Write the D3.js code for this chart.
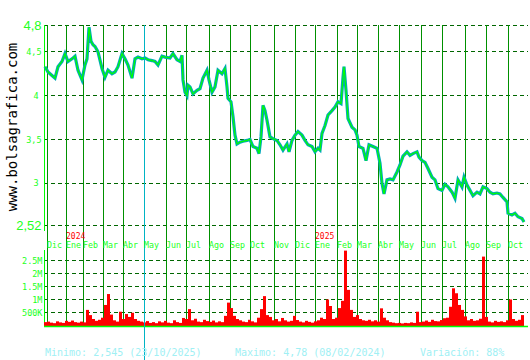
<!DOCTYPE html>
<html><head><meta charset="utf-8">
<script src="https://cdn.jsdelivr.net/npm/d3@7/dist/d3.min.js"></script>
<style>body{margin:0;background:#fff}svg{display:block}</style>
</head><body>
<script>
// ---------- DATA ----------
const monthLabels = ["Dic","Ene","Feb","Mar","Abr","May","Jun","Jul","Ago","Sep","Oct","Nov","Dic","Ene","Feb","Mar","Abr","May","Jun","Jul","Ago","Sep","Oct"];
const monthSessions = [2,21,38,58,78,99,121,141,164,185,205,229,250,270,292,312,333,355,376,397,420,441,463];
const yearLabels = ["2024","2025"];
const yearSessions = [21,270];
const markerSession = 99;

const priceTicks = [4.8,4.5,4,3.5,3,2.52];
const priceTickLabels = ["4,8","4,5","4","3,5","3","2,52"];
const volTicks = [500000,1000000,1500000,2000000,2500000];
const volTickLabels = ["500K","1M","1.5M","2M","2.5M"];

const sessions = [0,3,7,10,13,17,20,23,27,30,33,37,40,42,44,46,48,50,53,57,60,63,67,70,73,77,80,83,87,90,93,97,100,103,107,110,113,117,120,125,128,132,135,137,138,140,142,143,145,148,152,155,158,162,164,167,170,173,177,180,182,183,186,188,190,192,195,198,202,205,208,212,214,216,218,220,222,225,228,232,235,238,242,244,247,250,253,257,260,263,267,270,273,275,277,280,283,287,290,293,296,298,299,301,303,307,310,312,314,318,321,324,328,332,335,337,339,342,345,348,352,355,358,362,365,368,372,374,377,380,383,387,390,393,397,400,403,407,410,413,417,419,422,425,428,432,435,438,442,445,448,452,455,458,462,463,467,470,473,477,479];
const closes = [4.33,4.27,4.23,4.20,4.33,4.39,4.48,4.39,4.42,4.45,4.29,4.18,4.35,4.42,4.78,4.62,4.58,4.56,4.50,4.31,4.21,4.29,4.25,4.27,4.33,4.48,4.42,4.35,4.20,4.42,4.44,4.42,4.43,4.41,4.40,4.39,4.35,4.45,4.44,4.43,4.48,4.41,4.39,4.46,4.18,4.04,4.00,4.12,4.10,4.02,4.06,4.08,4.20,4.29,4.18,4.04,4.10,4.29,4.25,4.31,4.10,3.97,3.93,3.76,3.55,3.45,3.47,3.48,3.49,3.50,3.42,3.40,3.34,3.53,3.89,3.83,3.72,3.53,3.51,3.49,3.44,3.38,3.45,3.36,3.49,3.55,3.59,3.55,3.49,3.44,3.42,3.36,3.40,3.38,3.57,3.66,3.78,3.83,3.87,3.93,3.91,4.21,4.33,4.06,3.74,3.64,3.61,3.55,3.42,3.40,3.26,3.44,3.42,3.40,3.23,3.00,2.88,3.04,3.05,3.04,3.13,3.21,3.31,3.36,3.32,3.34,3.36,3.30,3.26,3.24,3.17,3.07,3.04,2.94,2.92,2.99,2.96,2.90,2.83,3.04,2.96,3.07,2.98,2.92,2.86,2.90,2.88,2.96,2.94,2.90,2.88,2.89,2.88,2.84,2.79,2.66,2.64,2.66,2.62,2.60,2.56];

// volume in thousands, one value every 3 sessions
const volumesK = [130,150,110,90,160,120,100,180,140,190,130,110,150,120,600,400,250,180,220,300,790,1210,420,200,150,530,250,440,330,490,250,180,150,120,170,100,130,90,160,120,180,110,90,200,130,100,290,250,630,200,260,150,130,220,170,140,190,120,160,130,370,880,670,370,250,200,150,130,220,160,120,300,630,1130,400,330,200,250,160,290,200,150,180,370,210,150,120,180,140,110,160,200,300,250,1000,750,250,300,670,950,2880,1370,600,330,400,250,200,180,220,160,200,150,660,300,200,130,110,90,100,80,100,90,120,100,530,130,150,190,140,220,170,160,210,280,300,720,1430,1240,790,600,350,200,250,180,200,260,2650,330,150,120,180,140,160,130,200,1000,250,180,220,400];
const volStep = 3;

const footerTexts = ["Minimo: 2,545 (23/10/2025)","Maximo: 4,78 (08/02/2024)","Variación: 88%"];

// ---------- DRAW ----------
const W = 530, H = 360;
const svg = d3.select("body").append("svg").attr("width", W).attr("height", H);

const x = d3.scaleLinear().domain([0, 479]).range([45, 524]);
const y = d3.scaleLinear().domain([2.52, 4.8]).range([225.5, 25.5]);
const yv = d3.scaleLinear().domain([0, 2500000]).range([325.5, 260.5]);
const crisp = v => Math.floor(v) + 0.5;

const gridCol = "#006600", monthCol = "#009000", axisCol = "#00ff00";
const smallFont = "'DejaVu Sans Mono', monospace";

// horizontal dashed grid - price
svg.append("g").selectAll("line").data(priceTicks).join("line")
  .attr("x1", 44).attr("x2", 528)
  .attr("y1", d => crisp(y(d))).attr("y2", d => crisp(y(d)))
  .attr("stroke", gridCol).attr("stroke-width", 1).attr("stroke-dasharray", "4,3");

// horizontal dashed grid - volume
svg.append("g").selectAll("line").data(volTicks).join("line")
  .attr("x1", 44).attr("x2", 528)
  .attr("y1", d => crisp(yv(d))).attr("y2", d => crisp(yv(d)))
  .attr("stroke", gridCol).attr("stroke-width", 1).attr("stroke-dasharray", "4,3");

// vertical month lines
svg.append("g").selectAll("line").data(monthSessions).join("line")
  .attr("x1", d => crisp(x(d))).attr("x2", d => crisp(x(d)))
  .attr("y1", 25).attr("y2", 326)
  .attr("stroke", monthCol).attr("stroke-width", 1);

// left axes
svg.append("line").attr("x1", 44.5).attr("x2", 44.5).attr("y1", 25).attr("y2", 231)
  .attr("stroke", axisCol).attr("stroke-width", 1);
svg.append("line").attr("x1", 44.5).attr("x2", 44.5).attr("y1", 250).attr("y2", 327)
  .attr("stroke", axisCol).attr("stroke-width", 1);

// volume bars
svg.append("g").selectAll("rect").data(volumesK).join("rect")
  .attr("x", (d, i) => x(i * volStep) - 1)
  .attr("width", volStep)
  .attr("y", d => yv(d * 1000))
  .attr("height", d => 326 - yv(d * 1000))
  .attr("fill", "#ff0000");

// volume baseline
svg.append("line").attr("x1", 44).attr("x2", 528).attr("y1", 326.5).attr("y2", 326.5)
  .attr("stroke", axisCol).attr("stroke-width", 1.6);

// price band + close line
const pts = sessions.map((s, i) => [s, closes[i]]);
const line = d3.line().x(d => x(d[0])).y(d => y(d[1]));
svg.append("path").datum(pts).attr("d", line)
  .attr("fill", "none").attr("stroke", "#00a8b8").attr("stroke-width", 3.2).attr("stroke-linejoin", "miter");
svg.append("path").datum(pts).attr("d", line)
  .attr("fill", "none").attr("stroke", "#00ff00").attr("stroke-width", 1.2);

// cyan marker line
svg.append("line").attr("x1", crisp(x(markerSession))).attr("x2", crisp(x(markerSession)))
  .attr("y1", 25).attr("y2", 360).attr("stroke", "#00b4c4").attr("stroke-width", 1);

// price tick labels
svg.append("g").selectAll("text").data(priceTicks).join("text")
  .attr("x", (d, i) => priceTickLabels[i].length === 1 ? 38.5 : 41.5)
  .attr("y", d => y(d))
  .attr("dy", "0.36em")
  .attr("text-anchor", "end")
  .attr("fill", "#22ff22")
  .attr("font-family", (d, i) => (i === 0 || i === priceTicks.length - 1) ? "'Liberation Sans', sans-serif" : smallFont)
  .attr("font-size", (d, i) => (i === 0 || i === priceTicks.length - 1) ? 13 : 8.5)
  .text((d, i) => priceTickLabels[i]);

// volume tick labels
svg.append("g").selectAll("text").data(volTicks).join("text")
  .attr("x", 42.5).attr("y", d => yv(d)).attr("dy", "0.36em")
  .attr("text-anchor", "end").attr("fill", "#22ff22")
  .attr("font-family", smallFont).attr("font-size", 8.5)
  .text((d, i) => volTickLabels[i]);

// month labels
svg.append("g").selectAll("text").data(monthSessions).join("text")
  .attr("x", d => Math.floor(x(d))).attr("y", 247.5)
  .attr("fill", "#22ff22").attr("font-family", smallFont).attr("font-size", 8.3)
  .text((d, i) => monthLabels[i]);

// year labels
svg.append("g").selectAll("text").data(yearSessions).join("text")
  .attr("x", d => Math.floor(x(d))).attr("y", 238.5)
  .attr("fill", "#ff0000").attr("font-family", smallFont).attr("font-size", 8)
  .text((d, i) => yearLabels[i]);

// rotated site label
svg.append("text")
  .attr("transform", "translate(16.5,127) rotate(-90)")
  .attr("text-anchor", "middle")
  .attr("fill", "#000").attr("font-family", smallFont).attr("font-size", 14)
  .text("www.bolsagrafica.com");

// footer
const footerX = [45, 235, 420];
svg.append("g").selectAll("text").data(footerTexts).join("text")
  .attr("x", (d, i) => footerX[i]).attr("y", 356)
  .attr("fill", "#a0f0f4").attr("font-family", smallFont).attr("font-size", 10)
  .text(d => d);
</script>
</body></html>
